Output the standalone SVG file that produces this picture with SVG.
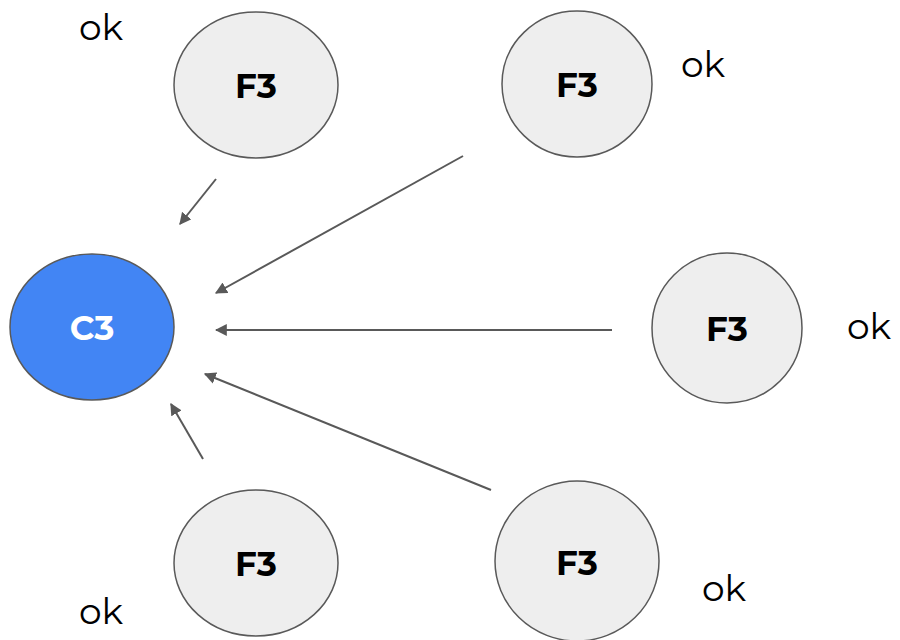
<svg xmlns="http://www.w3.org/2000/svg" width="900" height="640" viewBox="0 0 900 640">
<style>
.n{fill:#eeeeee;stroke:#595959;stroke-width:1.5}
.c{fill:#4285f4;stroke:#595959;stroke-width:1.5}
.t{font-family:"Montserrat","Lato","Open Sans",sans-serif;font-weight:bold;font-size:34px;text-anchor:middle;dominant-baseline:central;fill:#000}
.w{fill:#fff}
.ok{font-family:"Montserrat","Lato","Open Sans",sans-serif;font-size:36px;text-anchor:middle;dominant-baseline:central;fill:#000}
.e{stroke:#595959;stroke-width:2;fill:none;marker-end:url(#ah)}
</style>
<defs>
<marker id="ah" viewBox="0 0 10 10" refX="9" refY="5" markerWidth="6" markerHeight="6" markerUnits="strokeWidth" orient="auto">
<path d="M0,0 L10,5 L0,10 z" fill="#595959"/>
</marker>
</defs>
<rect width="900" height="640" fill="#fff"/>
<g id="connectors">
<line class="e" x1="216" y1="179" x2="180" y2="224"/>
<line class="e" x1="463" y1="156" x2="216" y2="293"/>
<line class="e" x1="612" y1="330" x2="216" y2="330"/>
<line class="e" x1="491" y1="490" x2="205" y2="374"/>
<line class="e" x1="203" y1="459" x2="171" y2="404"/>
</g>
<g id="c3"><ellipse class="c" cx="92" cy="327" rx="82" ry="73"/><text class="t w" x="92" y="328">C3</text></g>
<g id="f3-tl"><ellipse class="n" cx="256" cy="85" rx="82" ry="73"/><text class="t" x="256" y="86">F3</text></g>
<g id="f3-tr"><ellipse class="n" cx="577" cy="84" rx="75" ry="73"/><text class="t" x="577" y="85">F3</text></g>
<g id="f3-r"><ellipse class="n" cx="727" cy="328" rx="75" ry="75"/><text class="t" x="727" y="329">F3</text></g>
<g id="f3-bl"><ellipse class="n" cx="256" cy="563" rx="82" ry="73"/><text class="t" x="256" y="564">F3</text></g>
<g id="f3-br"><ellipse class="n" cx="577" cy="561" rx="82" ry="80"/><text class="t" x="577" y="563">F3</text></g>
<g id="labels">
<text class="ok" x="101" y="27">ok</text>
<text class="ok" x="703" y="64">ok</text>
<text class="ok" x="869" y="326">ok</text>
<text class="ok" x="101" y="611">ok</text>
<text class="ok" x="724" y="588">ok</text>
</g>
</svg>
